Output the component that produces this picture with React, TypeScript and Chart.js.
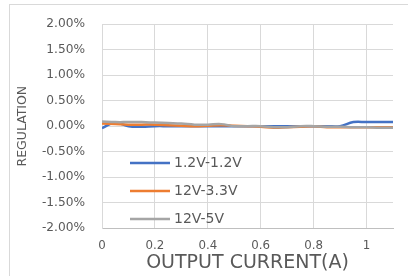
import React, { useEffect, useRef } from "react";
import { Chart, registerables } from "chart.js";

Chart.register(...registerables);

const currents = [0, 0.05, 0.1, 0.15, 0.2, 0.25, 0.3, 0.35, 0.4, 0.45, 0.5, 0.55, 0.6, 0.65, 0.7, 0.75, 0.8, 0.85, 0.9, 0.95, 1.0, 1.05, 1.1];
const reg12to12 = [-0.04, 0.07, 0.0, -0.01, 0.0, 0.0, 0.0, 0.0, 0.0, 0.0, 0.0, 0.0, 0.0, 0.0, 0.0, 0.0, 0.0, 0.0, 0.0, 0.08, 0.08, 0.08, 0.08];
const reg12to33 = [0.05, 0.04, 0.03, 0.03, 0.03, 0.02, 0.01, 0.0, 0.01, 0.02, 0.01, 0.0, -0.01, -0.03, -0.02, -0.01, 0.0, -0.02, -0.02, -0.02, -0.02, -0.02, -0.02];
const reg12to5 = [0.09, 0.08, 0.08, 0.08, 0.07, 0.06, 0.05, 0.03, 0.03, 0.04, 0.0, 0.0, 0.0, -0.02, -0.02, 0.0, 0.0, -0.01, -0.01, -0.02, -0.02, -0.03, -0.03];
const seriesNames = ["1.2V-1.2V", "12V-3.3V", "12V-5V"];
const seriesColors = ["#4472C4", "#ED7D31", "#A5A5A5"];
const yMin = -2;
const yMax = 2;
const yStep = 0.5;
const xMin = 0;
const xMax = 1.1;
const xStep = 0.2;
const xTitle = "OUTPUT CURRENT(A)";
const yTitle = "REGULATION";

const FONT = "'DejaVu Sans', sans-serif";
const TEXT = "#595959";

const insideLegend = {
  id: "insideLegend",
  afterDraw(chart: any) {
    const { ctx, chartArea } = chart;
    const offsets = [-65, -37, -9];
    ctx.save();
    chart.data.datasets.forEach((ds: any, i: number) => {
      const y = chartArea.bottom + offsets[i];
      ctx.strokeStyle = ds.borderColor;
      ctx.lineWidth = 2.5;
      ctx.beginPath();
      ctx.moveTo(chartArea.left + 28, y);
      ctx.lineTo(chartArea.left + 68, y);
      ctx.stroke();
      ctx.fillStyle = TEXT;
      ctx.font = `14px ${FONT}`;
      ctx.textAlign = "left";
      ctx.textBaseline = "middle";
      ctx.fillText(ds.label, chartArea.left + 72, y);
    });
    ctx.restore();
  },
};

export default function App() {
  const ref = useRef<HTMLCanvasElement>(null);
  useEffect(() => {
    const series = [reg12to12, reg12to33, reg12to5];
    const chart = new Chart(ref.current!, {
      type: "line",
      data: {
        datasets: series.map((vals, i) => ({
          label: seriesNames[i],
          data: currents.map((x, j) => ({ x, y: vals[j] })),
          borderColor: seriesColors[i],
          backgroundColor: seriesColors[i],
          borderWidth: 2.5,
          pointRadius: 0,
          tension: 0.4,
          order: 2 - i,
        })),
      },
      options: {
        animation: false,
        responsive: true,
        maintainAspectRatio: false,
        layout: { padding: { left: 0, right: 15, top: 24, bottom: 0 } },
        plugins: { legend: { display: false }, tooltip: { enabled: false } },
        scales: {
          x: {
            type: "linear",
            min: xMin,
            max: xMax,
            ticks: {
              stepSize: xStep,
              includeBounds: false,
              color: TEXT,
              font: { family: FONT, size: 11.8 },
              padding: 11,
              maxRotation: 0,
              callback: (v: any) => String(Math.round(Number(v) * 10) / 10),
            },
            grid: { color: "#D9D9D9", drawTicks: false, lineWidth: 1 },
            border: { color: "#BFBFBF", width: 1 },
            title: {
              display: true,
              text: xTitle,
              color: TEXT,
              font: { family: FONT, size: 19 },
              padding: { top: 0, bottom: 2 },
            },
            afterFit: (s: any) => {
              s.height = 48;
            },
          },
          y: {
            min: yMin,
            max: yMax,
            ticks: {
              stepSize: yStep,
              color: TEXT,
              font: { family: FONT, size: 12.2 },
              padding: 17,
              callback: (v: any) => Number(v).toFixed(2) + "%",
            },
            grid: { color: "#D9D9D9", drawTicks: false, lineWidth: 1 },
            border: { color: "#D9D9D9", width: 1 },
            title: {
              display: true,
              text: yTitle,
              color: TEXT,
              font: { family: FONT, size: 12.5 },
              padding: { top: 15, bottom: 0 },
            },
            afterFit: (s: any) => {
              s.width = 102;
            },
          },
        },
      },
      plugins: [insideLegend],
    });
    return () => chart.destroy();
  }, []);

  return (
    <div style={{ position: "fixed", left: 0, top: 0, width: 408, height: 276, background: "#fff", overflow: "hidden" }}>
      <div style={{ position: "absolute", left: 9, top: 4, width: 420, height: 300, border: "1px solid #D9D9D9", boxSizing: "border-box" }} />
      <div style={{ position: "absolute", left: 0, top: 0, width: 408, height: 276 }}>
        <canvas ref={ref} />
      </div>
    </div>
  );
}
